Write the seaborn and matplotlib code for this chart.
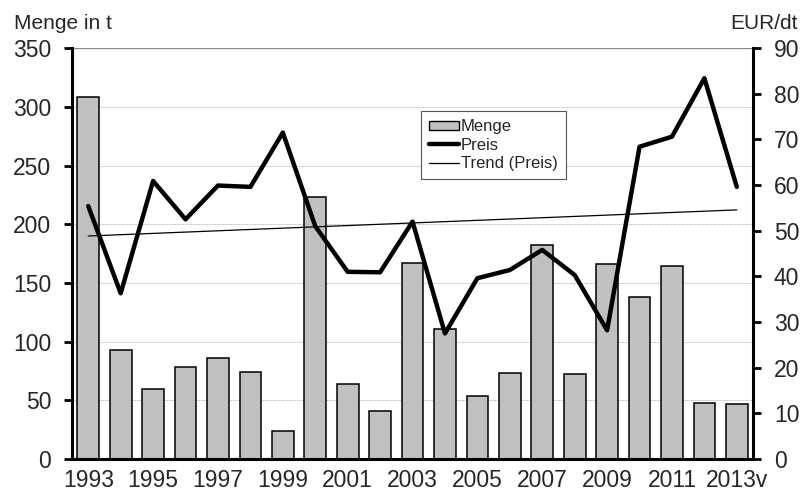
import numpy as np
import pandas as pd
import matplotlib
matplotlib.use("Agg")
import matplotlib.pyplot as plt
import seaborn as sns
from matplotlib.patches import Patch
from matplotlib.lines import Line2D

years = ["1993", "1994", "1995", "1996", "1997", "1998", "1999", "2000", "2001", "2002",
         "2003", "2004", "2005", "2006", "2007", "2008", "2009", "2010", "2011", "2012", "2013v"]
menge = [308, 93, 60, 78, 86, 74, 24, 223, 64, 41, 167, 111, 54, 73, 182, 72, 166, 138, 164, 48, 47]
preis = [55.4, 36.3, 60.9, 52.5, 59.9, 59.6, 71.5, 51.0, 41.0, 40.9, 52.0, 27.5, 39.6, 41.4,
         45.8, 40.3, 28.2, 68.4, 70.6, 83.4, 59.6]
tick_labels = ["1993", "1995", "1997", "1999", "2001", "2003", "2005", "2007", "2009", "2011", "2013v"]

BAR_COLOR = "#C0C0C0"
TICK_FS = 16.5

sns.set_theme(style="white")
plt.rcParams["font.family"] = ["Liberation Sans", "DejaVu Sans"]

df = pd.DataFrame({"Jahr": years, "Menge": menge, "Preis": preis})
pos = np.arange(len(years))
df["pos"] = pos

# linear trend of the price, as Excel draws it
slope, intercept = np.polyfit(pos, df["Preis"], 1)
df["Trend"] = slope * pos + intercept

fig = plt.figure(figsize=(8.04, 4.96), dpi=100)
ax = fig.add_axes([0.0896, 0.0746, 0.847, 0.8284])

sns.barplot(data=df, x="Jahr", y="Menge", color=BAR_COLOR, width=0.67,
            edgecolor="black", linewidth=1.1, saturation=1, ax=ax, zorder=2)
ax.set_xlim(-0.5, len(years) - 0.5)
ax.set_ylim(0, 350)
ax.set_yticks(range(0, 351, 50))
ax.set_xlabel("")
ax.set_ylabel("")
for y in range(50, 350, 50):
    ax.axhline(y, color="#b4b4b4", lw=0.6, ls=(0, (1, 0.6)), zorder=0)
ax.axhline(350, color="#8a8a8a", lw=1.0, zorder=0)

ax.set_xticks(pos[::2])
ax.set_xticklabels(tick_labels)
ax.set_xticks(np.arange(-0.5, len(years), 1), minor=True)
ax.tick_params(axis="x", which="major", length=0, labelsize=TICK_FS, pad=7)
ax.tick_params(axis="x", which="minor", direction="in", length=6, width=2, color="black")
ax.tick_params(axis="y", which="major", direction="out", length=6, width=2,
               labelsize=TICK_FS, pad=9, left=True, color="black")

for side in ["top", "right"]:
    ax.spines[side].set_visible(False)
for side in ["left", "bottom"]:
    ax.spines[side].set_linewidth(2.2)
    ax.spines[side].set_color("black")

ax2 = ax.twinx()
sns.lineplot(data=df, x="pos", y="Preis", color="black", lw=3.2, ax=ax2, zorder=4)
sns.lineplot(data=df, x="pos", y="Trend", color="black", lw=0.9, ax=ax2, zorder=3)
ax2.set_ylim(0, 90)
ax2.set_yticks(range(0, 91, 10))
ax2.set_xlim(-0.5, len(years) - 0.5)
ax2.set_ylabel("")
ax2.tick_params(axis="y", direction="out", length=6, width=2, labelsize=TICK_FS, pad=9,
                right=True, color="black")
for side in ["top", "left", "bottom"]:
    ax2.spines[side].set_visible(False)
ax2.spines["right"].set_linewidth(2.2)
ax2.spines["right"].set_color("black")

fig.text(0.018, 0.953, "Menge in t", fontsize=15, ha="left", va="center")
fig.text(0.992, 0.953, "EUR/dt", fontsize=15, ha="right", va="center")

handles = [
    Patch(facecolor=BAR_COLOR, edgecolor="black", linewidth=1.0),
    Line2D([], [], color="black", lw=3.2),
    Line2D([], [], color="black", lw=0.9),
]
leg = ax2.legend(handles, ["Menge", "Preis", "Trend (Preis)"], loc="upper left",
                 bbox_to_anchor=(0.512, 0.847), fontsize=12, frameon=True,
                 fancybox=False, edgecolor="#555555", framealpha=1,
                 handlelength=1.8, handleheight=0.5, handletextpad=0.1,
                 labelspacing=0.2, borderpad=0.5, borderaxespad=0)
leg.get_frame().set_linewidth(0.8)

fig.savefig("out.png", dpi=100)
